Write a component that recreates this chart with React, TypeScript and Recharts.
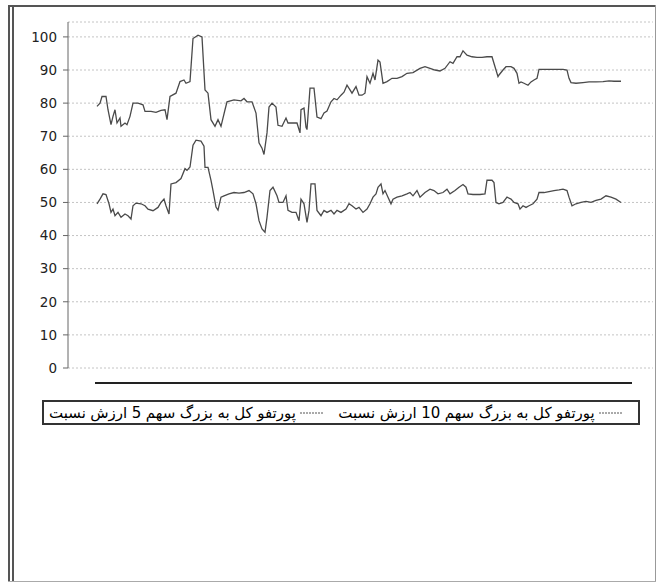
import React from 'react';
import { LineChart, Line, XAxis, YAxis, CartesianGrid, Legend } from 'recharts';

// Day index (trading days) and ratio values
const tenDays = [
  1, 4, 6, 10, 12, 15, 17, 19, 21, 24, 25, 29, 31, 34, 37, 42, 47, 49, 55, 60, 65, 69, 71, 74, 80, 84, 88, 90, 94, 97, 102, 106, 109, 112, 115, 119, 122, 125, 129,
  131, 138, 145, 148, 151, 156, 160, 163, 166, 168, 171, 173, 176, 180, 182, 186, 190, 192, 196, 201, 204, 205, 208, 210, 211, 214, 218, 221, 225, 228, 231, 235, 238, 241, 245, 248, 251, 254, 256, 260, 263, 266,
  269, 271, 274, 277, 279, 282, 284, 287, 291, 296, 301, 306, 311, 317, 324, 329, 334, 339, 344, 349, 354, 357, 361, 364, 367, 371, 376, 381, 386, 391, 396, 399, 402,
  403, 407, 410, 415, 418, 421, 423, 425, 428, 432, 435, 438, 441, 443, 453, 460, 467, 471, 473, 475, 480, 487, 493, 500, 507, 513, 518, 525,
];
const tenValues = [
  79, 80, 82, 82, 78, 73.5, 76, 78, 74, 75.5, 73, 74, 73.5, 76, 80, 80, 79.5, 77.5, 77.5, 77.2, 77.8, 78, 75, 82, 83, 86.5, 87, 86, 86.5, 99.5, 100.5, 100, 84, 83, 75, 73, 75, 73, 78,
  80.4, 81, 80.7, 81.4, 80.4, 80.4, 77, 68, 66.4, 64.5, 71, 78.8, 80, 78.8, 73.3, 73, 75.5, 74, 74, 74, 71, 78, 78.5, 72.7, 72, 84.5, 84.5, 75.8, 75.3, 77, 77.6, 80.4, 81.4, 81, 82.4, 83.3, 85.4, 84, 83, 85, 82.4, 82.4,
  83, 88, 86, 89, 87, 93, 92.4, 86, 86.5, 87.5, 87.5, 88, 89, 89.2, 90.5, 91, 90.5, 90, 89.7, 90.5, 92.5, 92, 94, 94, 95.8, 94.5, 94, 93.8, 93.8, 94, 94, 91, 88,
  88.5, 90, 91, 91, 90.5, 89, 86, 86.4, 86, 85.4, 86.4, 87, 87.5, 90.2, 90.2, 90.2, 90.2, 90, 87.5, 86.2, 86, 86.2, 86.4, 86.4, 86.5, 86.7, 86.6, 86.6,
];
const fiveDays = [
  1, 4, 7, 10, 13, 15, 17, 19, 22, 25, 29, 32, 35, 37, 40, 45, 49, 52, 57, 62, 65, 68, 70, 73, 75, 80, 85, 89, 91, 94, 97, 100, 105, 108, 109, 112, 115, 117, 120, 122, 125,
  128, 133, 138, 143, 148, 153, 157, 160, 163, 166, 169, 171, 174, 177, 181, 183, 187, 190, 192, 196, 200, 203, 205, 208, 211, 213, 215, 219, 221, 225, 228, 231, 235, 238, 241, 245, 250, 253, 256, 260, 263,
  267, 271, 274, 277, 280, 282, 285, 287, 289, 292, 295, 297, 301, 306, 311, 314, 317, 321, 324, 329, 334, 338, 342, 347, 351, 354, 359, 363, 367, 370, 372, 377, 384, 389, 391, 396, 398,
  400, 403, 407, 411, 415, 418, 422, 424, 427, 430, 433, 437, 441, 443, 448, 453, 458, 463, 467, 471, 473, 476, 480, 485, 490, 495, 500, 505, 510, 515, 520, 525,
];
const fiveValues = [
  49.6, 51, 52.6, 52.4, 49.6, 47, 48, 46, 47, 45.5, 46.5, 46, 45, 49, 49.8, 49.6, 49, 48, 47.5, 48.5, 50, 51, 49, 46.5, 55.6, 56, 57.2, 60.2, 59.7, 60.7, 67.3, 68.8, 68.5, 67, 60.6, 60.6, 56.7, 53.6, 48.6, 47.7, 51.6,
  52, 52.6, 53, 52.8, 53, 53.6, 52.6, 49.6, 44.5, 42, 41, 45.5, 53.6, 54.6, 52, 50, 50, 52, 47.6, 47, 47, 44.5, 51, 49.6, 44, 47.6, 55.6, 55.6, 47.6, 46, 47.6, 47, 47.6, 46.5, 47.6, 47, 48, 49.6, 49, 48, 48.5,
  47, 48, 49.6, 51.6, 52.6, 54.6, 55.6, 52.6, 53.6, 51.6, 49.6, 51, 51.6, 52, 52.6, 53, 52, 53.6, 51.6, 53, 54, 53.6, 52.6, 53, 54, 52.6, 53.6, 54.6, 55.4, 54.6, 52.6, 52.4, 52.4, 52.6, 56.7, 56.7, 56,
  50, 49.6, 50, 51.6, 51, 50, 49.6, 48, 49, 48.5, 49, 49.6, 51, 53, 53, 53.3, 53.6, 53.8, 54, 53.6, 51.6, 49, 49.6, 50, 50.3, 50, 50.6, 51, 52, 51.6, 51, 50,
];

const yTicks = [0, 10, 20, 30, 40, 50, 60, 70, 80, 90, 100];
const fiveLabel = 'نسبت ارزش 5 سهم بزرگ به کل پورتفو';
const tenLabel = 'نسبت ارزش 10 سهم بزرگ به کل پورتفو';

const fiveData = fiveDays.map((d, i) => ({ day: d, five: fiveValues[i] }));
const tenData = tenDays.map((d, i) => ({ day: d, ten: tenValues[i] }));

const FONT = '"DejaVu Sans", Tahoma, sans-serif';
const LINE_COLOR = '#4a4a4a';
const seriesOrder = ['five', 'ten'];

// The source chart lays the words of each label out left-to-right
function Words({ text }: { text: string }) {
  return (
    <>
      {text.split(' ').map((w, j) => (
        <span key={j} style={{ display: 'inline-block', marginRight: 4.5 }}>
          {w}
        </span>
      ))}
    </>
  );
}

function LegendBox(props: any) {
  const payload = props.payload || [];
  const items = seriesOrder.map((k) => payload.find((p: any) => p.dataKey === k)).filter(Boolean);
  return (
    <div
      style={{
        border: '2px solid #333',
        height: 25,
        boxSizing: 'border-box',
        display: 'flex',
        alignItems: 'center',
        paddingLeft: 5,
        direction: 'ltr',
        fontFamily: FONT,
        fontSize: 15,
        color: '#000',
        background: '#fff',
        whiteSpace: 'nowrap',
      }}
    >
      {items.map((p: any, i: number) => (
        <div key={i} style={{ display: 'flex', alignItems: 'center', marginRight: 14 }}>
          <Words text={String(p.value)} />
          <svg width={24} height={6}>
            <line x1={0} y1={3} x2={24} y2={3} stroke="#555" strokeDasharray="2 1" strokeWidth={1} />
          </svg>
        </div>
      ))}
    </div>
  );
}

export default function App() {
  return (
    <div style={{ position: 'absolute', left: 0, top: 0, width: 657, height: 585, background: '#fff', overflow: 'hidden' }}>
      <div style={{ position: 'absolute', left: 8, top: 5, width: 648, height: 0, borderTop: '2px solid #555' }} />
      <div style={{ position: 'absolute', left: 8, top: 5, width: 0, height: 577, borderLeft: '6px double #555' }} />
      <div style={{ position: 'absolute', left: 655, top: 5, width: 0, height: 577, borderLeft: '1px solid #999' }} />
      <div style={{ position: 'absolute', left: 8, top: 581, width: 648, height: 0, borderTop: '1px solid #aaa' }} />
      <div style={{ position: 'absolute', left: 95, top: 382, width: 537, height: 0, borderTop: '2px solid #222' }} />
      <div style={{ position: 'absolute', left: 0, top: 0 }}>
        <LineChart width={657} height={585} margin={{ top: 22, right: 4, bottom: 217, left: 0 }}>
          <CartesianGrid vertical={false} stroke="#c4c4c4" strokeDasharray="2 2" />
          <XAxis dataKey="day" type="number" domain={[0, 525]} padding={{ left: 28, right: 32 }} height={0} tick={false} tickLine={false}
            axisLine={{ stroke: '#555', strokeDasharray: '2 1', strokeWidth: 1.2 }} />
          <XAxis xAxisId="frame" orientation="top" type="number" domain={[0, 1]} height={0} tick={false} tickLine={false}
            axisLine={{ stroke: '#999', strokeDasharray: '2 2' }} />
          <YAxis type="number" domain={[0, 104.5]} ticks={yTicks} interval={0} width={68} tickSize={5} tickMargin={6}
            tickLine={{ stroke: '#666' }} axisLine={{ stroke: '#666' }} tick={{ fontSize: 13.5, fill: '#222', fontFamily: FONT }} />
          <YAxis yAxisId="frame" orientation="right" domain={[0, 1]} width={0} tick={false} tickLine={false}
            axisLine={{ stroke: '#999', strokeDasharray: '2 2' }} />
          <Line data={fiveData} dataKey="five" name={fiveLabel} type="linear" stroke={LINE_COLOR} strokeWidth={1.3} dot={false} isAnimationActive={false} />
          <Line data={tenData} dataKey="ten" name={tenLabel} type="linear" stroke={LINE_COLOR} strokeWidth={1.3} dot={false} isAnimationActive={false} />
          <Legend layout="horizontal" verticalAlign="middle" align="center" content={(p: any) => <LegendBox {...p} />}
            wrapperStyle={{ left: 42, top: 400, width: 598, height: 25 }} />
        </LineChart>
      </div>
    </div>
  );
}
